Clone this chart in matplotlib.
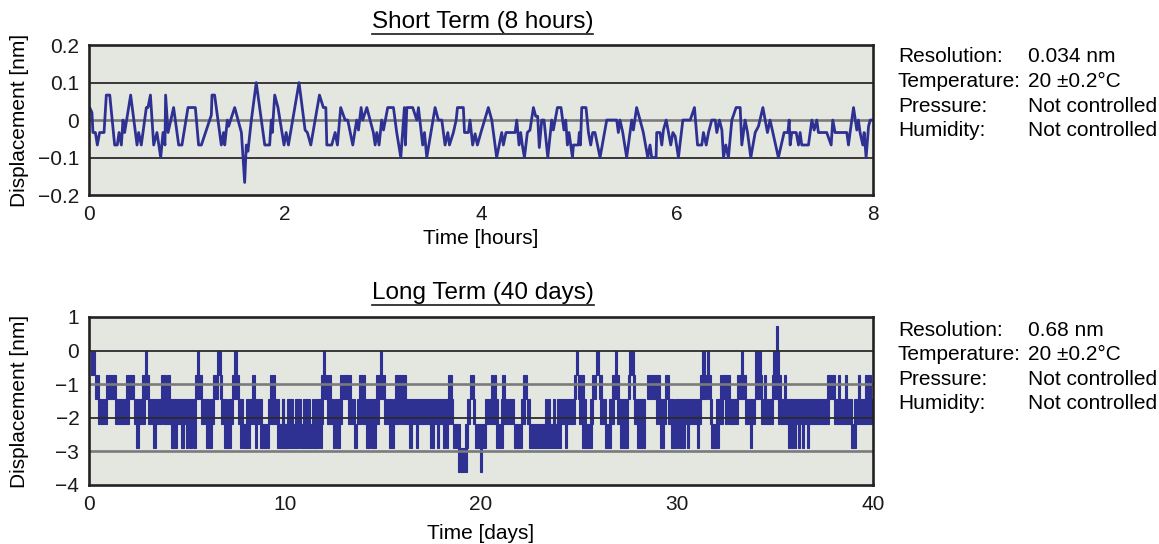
import matplotlib.pyplot as plt
from matplotlib.lines import Line2D

plt.rcParams['font.family'] = ['Liberation Sans', 'DejaVu Sans']

BLUE = '#2e3192'
PANEL = '#e3e7e0'
DARK = '#2b2b2b'
GREY = '#7a7a7a'

# ---- short term: time in minutes, displacement in steps of 0.0333 nm ----
SHORT_STEP = 0.0333
short_min = [0, 0.4, 1.8, 2.4, 3.9, 5.1, 6.5, 9.2, 10.6, 12.7,
             15.7, 17.3, 18.4, 19.8, 20.8, 21.8, 25.5, 29.4, 30.4, 32.0,
             35.1, 36.1, 37.6, 39.6, 41.6, 43.9, 45.3, 46.5, 46.9, 48.4,
             51.8, 54.9, 56.9, 60.6, 65.1, 67.1, 68.8, 74.9, 75.3, 76.9,
             81.0, 82.4, 83.1, 84.7, 85.5, 86.7, 89.2, 93.3, 95.3, 96.3,
             97.3, 99.4, 102.4, 105.5, 107.6, 110.6, 111.6, 112.2, 113.7, 115.7,
             119.4, 120.7, 122.1, 128.6, 132.3, 133.7, 135.8, 141.1, 143.5, 145.0,
             145.6, 148.6, 150.7, 152.1, 154.1, 156.8, 158.4, 161.5, 163.9, 165.0,
             166.6, 167.6, 170.1, 174.1, 175.2, 176.2, 177.6, 179.2, 180.3, 182.9,
             186.4, 188.4, 190.9, 193.1, 193.7, 194.6, 198.2, 200.7, 201.7, 204.3,
             205.4, 206.8, 211.9, 213.9, 216.0, 218.0, 219.7, 220.7, 223.1, 224.8,
             225.6, 229.2, 229.9, 232.3, 233.3,
             234.9, 236.4, 237.8, 240.4, 244.5, 246.6, 249.6, 252.7, 253.7, 255.3,
             260.9, 261.9, 263.3, 264.3, 265.3, 266.6, 268.4, 270.0, 272.1, 273.5,
             274.7, 275.7, 277.2, 278.6, 280.9, 283.3, 284.3, 286.8, 289.0, 290.8,
             291.9, 292.9, 293.9, 296.0, 296.6, 299.6, 300.2, 300.9, 301.7, 304.3,
             305.8, 307.2, 308.4, 309.8, 312.9, 317.0, 323.1, 324.1, 325.1, 326.8,
             329.2, 332.3, 333.3, 335.3, 337.4, 339.4, 342.1, 343.5, 344.5, 347.2,
             347.6, 349.6,
             350.7, 351.7, 353.4, 354.8, 356.2, 357.5, 358.9, 360.9, 363.6, 368.1,
             370.7, 372.6, 375.2, 376.2, 377.9, 379.3, 381.3, 383.4, 384.4, 386.0,
             387.5, 388.5, 389.9, 391.5, 393.6, 396.2, 398.7, 399.7, 401.7, 403.2,
             405.2, 407.9, 409.9, 412.6, 415.4, 417.0, 422.1, 425.6, 427.9, 428.7,
             429.3, 430.3, 433.0, 434.4, 435.4, 436.4, 440.5, 442.6, 444.0, 445.6,
             446.6, 451.7, 454.4, 455.4, 456.8, 464.0, 465.0, 466.0, 468.1, 470.1,
             471.1, 472.1, 473.8, 474.6, 475.8, 477.3, 478.3, 479.9]
short_lvl = [1, 1, 0.6, -1, -1, -2, -1, -1, 2, 2,
             -2, -2, -1, -2, 0, -1, 2, -2, -1, -2,
             1, 1, 2, -2, -1, -3, -1, -2, 2, -1,
             1, -2, -2, 1, 1, -2, -2, 0.4, 2, 2,
             -2, -1, -2, 0, -0.5, 0, 1, -1, -5, -2,
             -2.5, 0, 3, 0, -2, -2, 0, -1, 2, 1,
             -2, -1, -2, 3, -0.8, -1, -2, 2, 1, 1,
             -2, -2, -1, -2, 1, 0, 0, -2, 0, -0.8,
             1, 0, 1, -1, -2, -1, -2, 0, -0.8, 1,
             1, -1, -3, 1, -2, 1, 1, 0, 1, -2,
             -1, -3, 1, 0, 0, -2, -1, -2, -1, 0,
             1, 1, -1, -1, 0,
             -2, -1.1, -2, -0.8, 1, 0, -3, -1, -2, -1,
             -1, 0, -2, -1, -2, -3, -1, -0.8, 1, 0.3,
             0.3, -2.2, 0, 0, -3, 0, -0.8, 1, 1, -0.8,
             0, -2, -1, -3, -2, -2, -1, -2, 1, 1,
             -1, -2, -1, -1, -3, 0, 0, -1, 0, -1,
             -3, 0, -0.8, 1, 0, -1, -3, -2, -3, -3,
             -1, -1,
             -2, -0.8, 0, -1, -2, -1, -1.3, -3, 0, 0,
             1, -2, -2, -1, -2, -1, 0, 0, -1, 0,
             -0.8, -3, -2, -3, 0, 1, 1, -2, 0, -1,
             -3, -1, -0.5, 1, -1, 0, -3, -1, -1, 0,
             -2, -1, -1, -2, -1, -2, -2, 0, -0.8, 0,
             -1, -1, -2, 0, -1, -1, -2, -1, 1, -0.8,
             0, -1, -2, -1, -3, -0.5, 0, 0]

# ---- long term: bands where the signal toggles between two adjacent steps ----
# start day, end day, upper step (band spans upper .. upper-1)
LONG_STEP = 0.725
long_start = [0.085, 0.29, 0.46, 0.88, 1.34, 1.90, 2.28, 2.41, 2.72, 2.84,
              3.01, 3.27, 3.67, 3.98, 3.78, 4.18, 4.69, 4.95, 5.10, 5.31,
              5.39, 5.51, 5.73, 5.97, 6.16, 6.33, 6.53, 6.67, 6.73, 6.89,
              7.09, 7.30, 7.40, 7.60, 7.69, 7.84, 8.01, 8.32, 8.47, 8.72,
              9.13, 9.23, 9.59, 9.83,
              9.745, 9.85, 10.12, 10.51, 10.77, 10.90, 11.38, 11.53, 11.79, 11.84,
              11.94, 11.99, 12.14, 12.45, 12.55, 12.60, 12.81, 13.21, 13.52, 13.67,
              13.78, 13.93, 14.13, 14.39, 14.64, 14.85, 15.05, 15.31, 15.51, 15.61,
              15.87, 16.02, 16.33, 16.68, 17.40, 17.76, 18.06, 18.21, 18.32, 18.47,
              18.57, 18.83, 19.18, 19.29,
              19.44, 19.59, 19.69, 19.95, 20.20, 20.51, 20.66, 20.77, 21.02, 21.07,
              21.68, 22.04, 22.14, 22.35, 22.45, 23.27, 23.42, 23.67, 23.88, 24.29,
              24.75, 24.85, 24.95, 25.00, 25.15, 25.56, 25.66, 25.87, 26.02, 26.07,
              26.33, 26.53, 26.68, 26.84, 26.94, 27.09, 27.50, 27.55, 27.76, 27.81,
              27.96, 28.47, 28.93, 29.08, 29.13, 29.39, 29.54,
              29.59, 29.69, 29.90, 30.05, 30.51, 31.02, 31.17, 31.28, 31.53, 31.58,
              31.68, 31.73, 31.99, 32.19, 32.45, 32.60, 33.06, 33.27, 33.47, 33.72,
              33.98, 33.98, 34.08, 34.18, 34.29, 34.44, 34.85, 34.90, 35.05, 35.15,
              35.20, 35.46, 35.66, 35.82, 35.97, 36.17, 36.38, 36.63, 37.65, 38.01,
              38.21, 38.57, 38.88, 39.03, 39.23, 39.59]
long_end = [0.29, 0.49, 0.90, 1.36, 2.02, 2.28, 2.84, 2.53, 3.06, 2.94,
            3.72, 3.40, 3.91, 4.12, 5.48, 4.47, 4.83, 5.03, 5.24, 5.44,
            5.77, 5.61, 6.11, 6.28, 6.38, 6.58, 6.73, 6.79, 7.04, 7.23,
            7.35, 7.65, 7.55, 7.86, 7.81, 8.21, 8.83, 8.45, 8.57, 9.17,
            9.68, 9.49, 10.15, 9.93,
            10.71, 9.95, 10.39, 10.82, 11.73, 11.28, 11.48, 11.92, 11.89, 11.96,
            12.04, 12.35, 12.50, 12.55, 12.91, 12.81, 13.37, 13.57, 13.67, 13.88,
            14.08, 14.80, 14.34, 14.64, 15.10, 14.95, 15.46, 15.56, 15.82, 16.17,
            15.97, 18.42, 16.48, 16.79, 17.60, 17.86, 18.16, 18.32, 18.52, 18.57,
            18.93, 19.29, 19.34, 19.44,
            19.64, 19.69, 20.26, 20.05, 20.87, 20.61, 20.77, 21.12, 21.68, 21.22,
            22.09, 22.25, 22.35, 22.50, 24.08, 23.37, 23.52, 23.78, 24.80, 24.39,
            24.85, 24.95, 25.26, 25.36, 25.66, 25.71, 25.87, 26.02, 26.17, 26.38,
            26.63, 26.79, 27.04, 26.94, 27.50, 27.50, 27.60, 27.81, 27.86, 28.37,
            28.37, 29.13, 29.03, 29.44, 29.34, 29.59, 29.64,
            29.85, 30.00, 31.23, 30.41, 30.61, 31.12, 31.53, 31.43, 31.63, 31.73,
            31.79, 32.14, 32.35, 32.70, 32.55, 33.11, 33.52, 33.37, 33.98, 33.83,
            34.08, 34.13, 34.34, 34.29, 34.90, 34.54, 35.20, 35.20, 35.15, 37.76,
            35.31, 35.56, 35.77, 35.92, 36.07, 36.28, 36.48, 36.74, 38.06, 38.93,
            38.32, 38.67, 39.13, 39.95, 39.34, 39.90]
long_top = [0, -1, -2, -1, -2, -1, -2, -3, -1, 0,
            -2, -3, -1, -1, -2, -3, -3, -3, -3, -3,
            -1, 0, -2, -3, -2, -1, 0, -1, -2, -3,
            -2, -1, 0, -2, -3, -3, -2, -1, -3, -3,
            -2, -1, -3, -2,
            -3, -2, -2, -2, -3, -2, -2, -2, -3, -1,
            0, -1, -2, -3, -2, -3, -1, -2, -3, -2,
            -1, -2, -3, -3, -1, 0, -2, -3, -2, -1,
            -2, -2, -3, -3, -3, -3, -3, -3, -1, -2,
            -3, -4, -3, -2,
            -1, -2, -3, -4, -2, -1, -1, -3, -2, -1,
            -3, -2, -1, -2, -3, -2, -2, -2, -2, -3,
            -1, 0, -1, -2, -3, -2, -1, 0, -1, -2,
            -3, -2, -1, 0, -2, -3, -1, 0, -1, -2,
            -3, -1, -2, -2, -3, -1, -2,
            -2, -3, -2, -3, -3, -3, -1, 0, 0, -1,
            -2, -3, -2, -1, -2, -2, -1, 0, -2, -3,
            -1, 0, -1, 0, -2, -1, -1, 0, 1, -2,
            -1, -1, -3, -3, -3, -3, -3, -3, -1, -2,
            -1, -1, -3, -2, -1, -1]

short_yticks = [0.2, 0.1, 0, -0.1, -0.2]
short_ylabels = ['0.2', '0.1', '0', '\u22120.1', '\u22120.2']
short_xticks = [0, 2, 4, 6, 8]
long_yticks = [1, 0, -1, -2, -3, -4]
long_ylabels = ['1', '0', '\u22121', '\u22122', '\u22123', '\u22124']
long_xticks = [0, 10, 20, 30, 40]

short_info = [('Resolution:', '0.034 nm'), ('Temperature:', '20 \u00b10.2\u00b0C'),
              ('Pressure:', 'Not controlled'), ('Humidity:', 'Not controlled')]
long_info = [('Resolution:', '0.68 nm'), ('Temperature:', '20 \u00b10.2\u00b0C'),
             ('Pressure:', 'Not controlled'), ('Humidity:', 'Not controlled')]

FS = 15

fig = plt.figure(figsize=(11.59, 5.44), dpi=100)
ax1 = fig.add_axes([0.0768, 0.6415, 0.6764, 0.2757])
ax2 = fig.add_axes([0.0768, 0.1085, 0.6764, 0.3088])


def style(ax, yticks, ylabels, xticks, dark, grey, gz):
    ax.set_facecolor(PANEL)
    for s in ax.spines.values():
        s.set_linewidth(1.9)
        s.set_color('#222222')
        s.set_zorder(6)
    ax.set_yticks(yticks)
    ax.set_yticklabels(ylabels)
    ax.set_xticks(xticks)
    ax.tick_params(length=0, labelsize=FS, pad=7, colors='#1a1a1a')
    for y in dark:
        ax.axhline(y, color=DARK, lw=1.3, zorder=gz)
    for y in grey:
        ax.axhline(y, color=GREY, lw=1.9, zorder=gz)
    ax.set_ylabel('Displacement [nm]', fontsize=FS)
    ax.yaxis.set_label_coords(-0.077, 0.5)


# short term
hours = [m / 60 for m in short_min]
disp = [v * SHORT_STEP for v in short_lvl]
ax1.plot(hours, disp, color=BLUE, lw=2.0, zorder=3)
ax1.set_xlim(0, 8)
ax1.set_ylim(-0.2, 0.2)
style(ax1, short_yticks, short_ylabels, short_xticks, [0.1, -0.1], [0], 2)
ax1.text(0.5, -0.287, 'Time [hours]', transform=ax1.transAxes,
         ha='center', va='center', fontsize=FS)

# long term
widths = [e - s for s, e in zip(long_start, long_end)]
bottoms = [(t - 1) * LONG_STEP for t in long_top]
ax2.bar(long_start, LONG_STEP, width=widths, bottom=bottoms, align='edge',
        color=BLUE, edgecolor=BLUE, linewidth=0.8, zorder=3)
ax2.set_xlim(0, 40)
ax2.set_ylim(-4, 1)
style(ax2, long_yticks, long_ylabels, long_xticks, [0, -2], [-1, -3], 4)
ax2.text(0.5, -0.286, 'Time [days]', transform=ax2.transAxes,
         ha='center', va='center', fontsize=FS)

t1 = fig.text(0.4165, 1 - 22 / 544, 'Short Term (8 hours)', ha='center',
              va='center', fontsize=17.5)
t2 = fig.text(0.4165, 1 - 293 / 544, 'Long Term (40 days)', ha='center',
              va='center', fontsize=17.5)

for info, y0 in ((short_info, 57), (long_info, 330)):
    for i, (lab, val) in enumerate(info):
        y = 1 - (y0 + i * 24.6) / 544
        fig.text(898 / 1159, y, lab, ha='left', va='center', fontsize=FS)
        fig.text(1028 / 1159, y, val, ha='left', va='center', fontsize=FS)

# underline the titles
fig.canvas.draw()
inv = fig.transFigure.inverted()
for t in (t1, t2):
    bb = t.get_window_extent()
    (x0, y0), (x1, _) = inv.transform([(bb.x0, bb.y0), (bb.x1, bb.y1)])
    fig.add_artist(Line2D([x0, x1], [y0 - 0.002, y0 - 0.002], color='#1a1a1a',
                          lw=1.2, transform=fig.transFigure))

fig.savefig('out.png', dpi=100)
